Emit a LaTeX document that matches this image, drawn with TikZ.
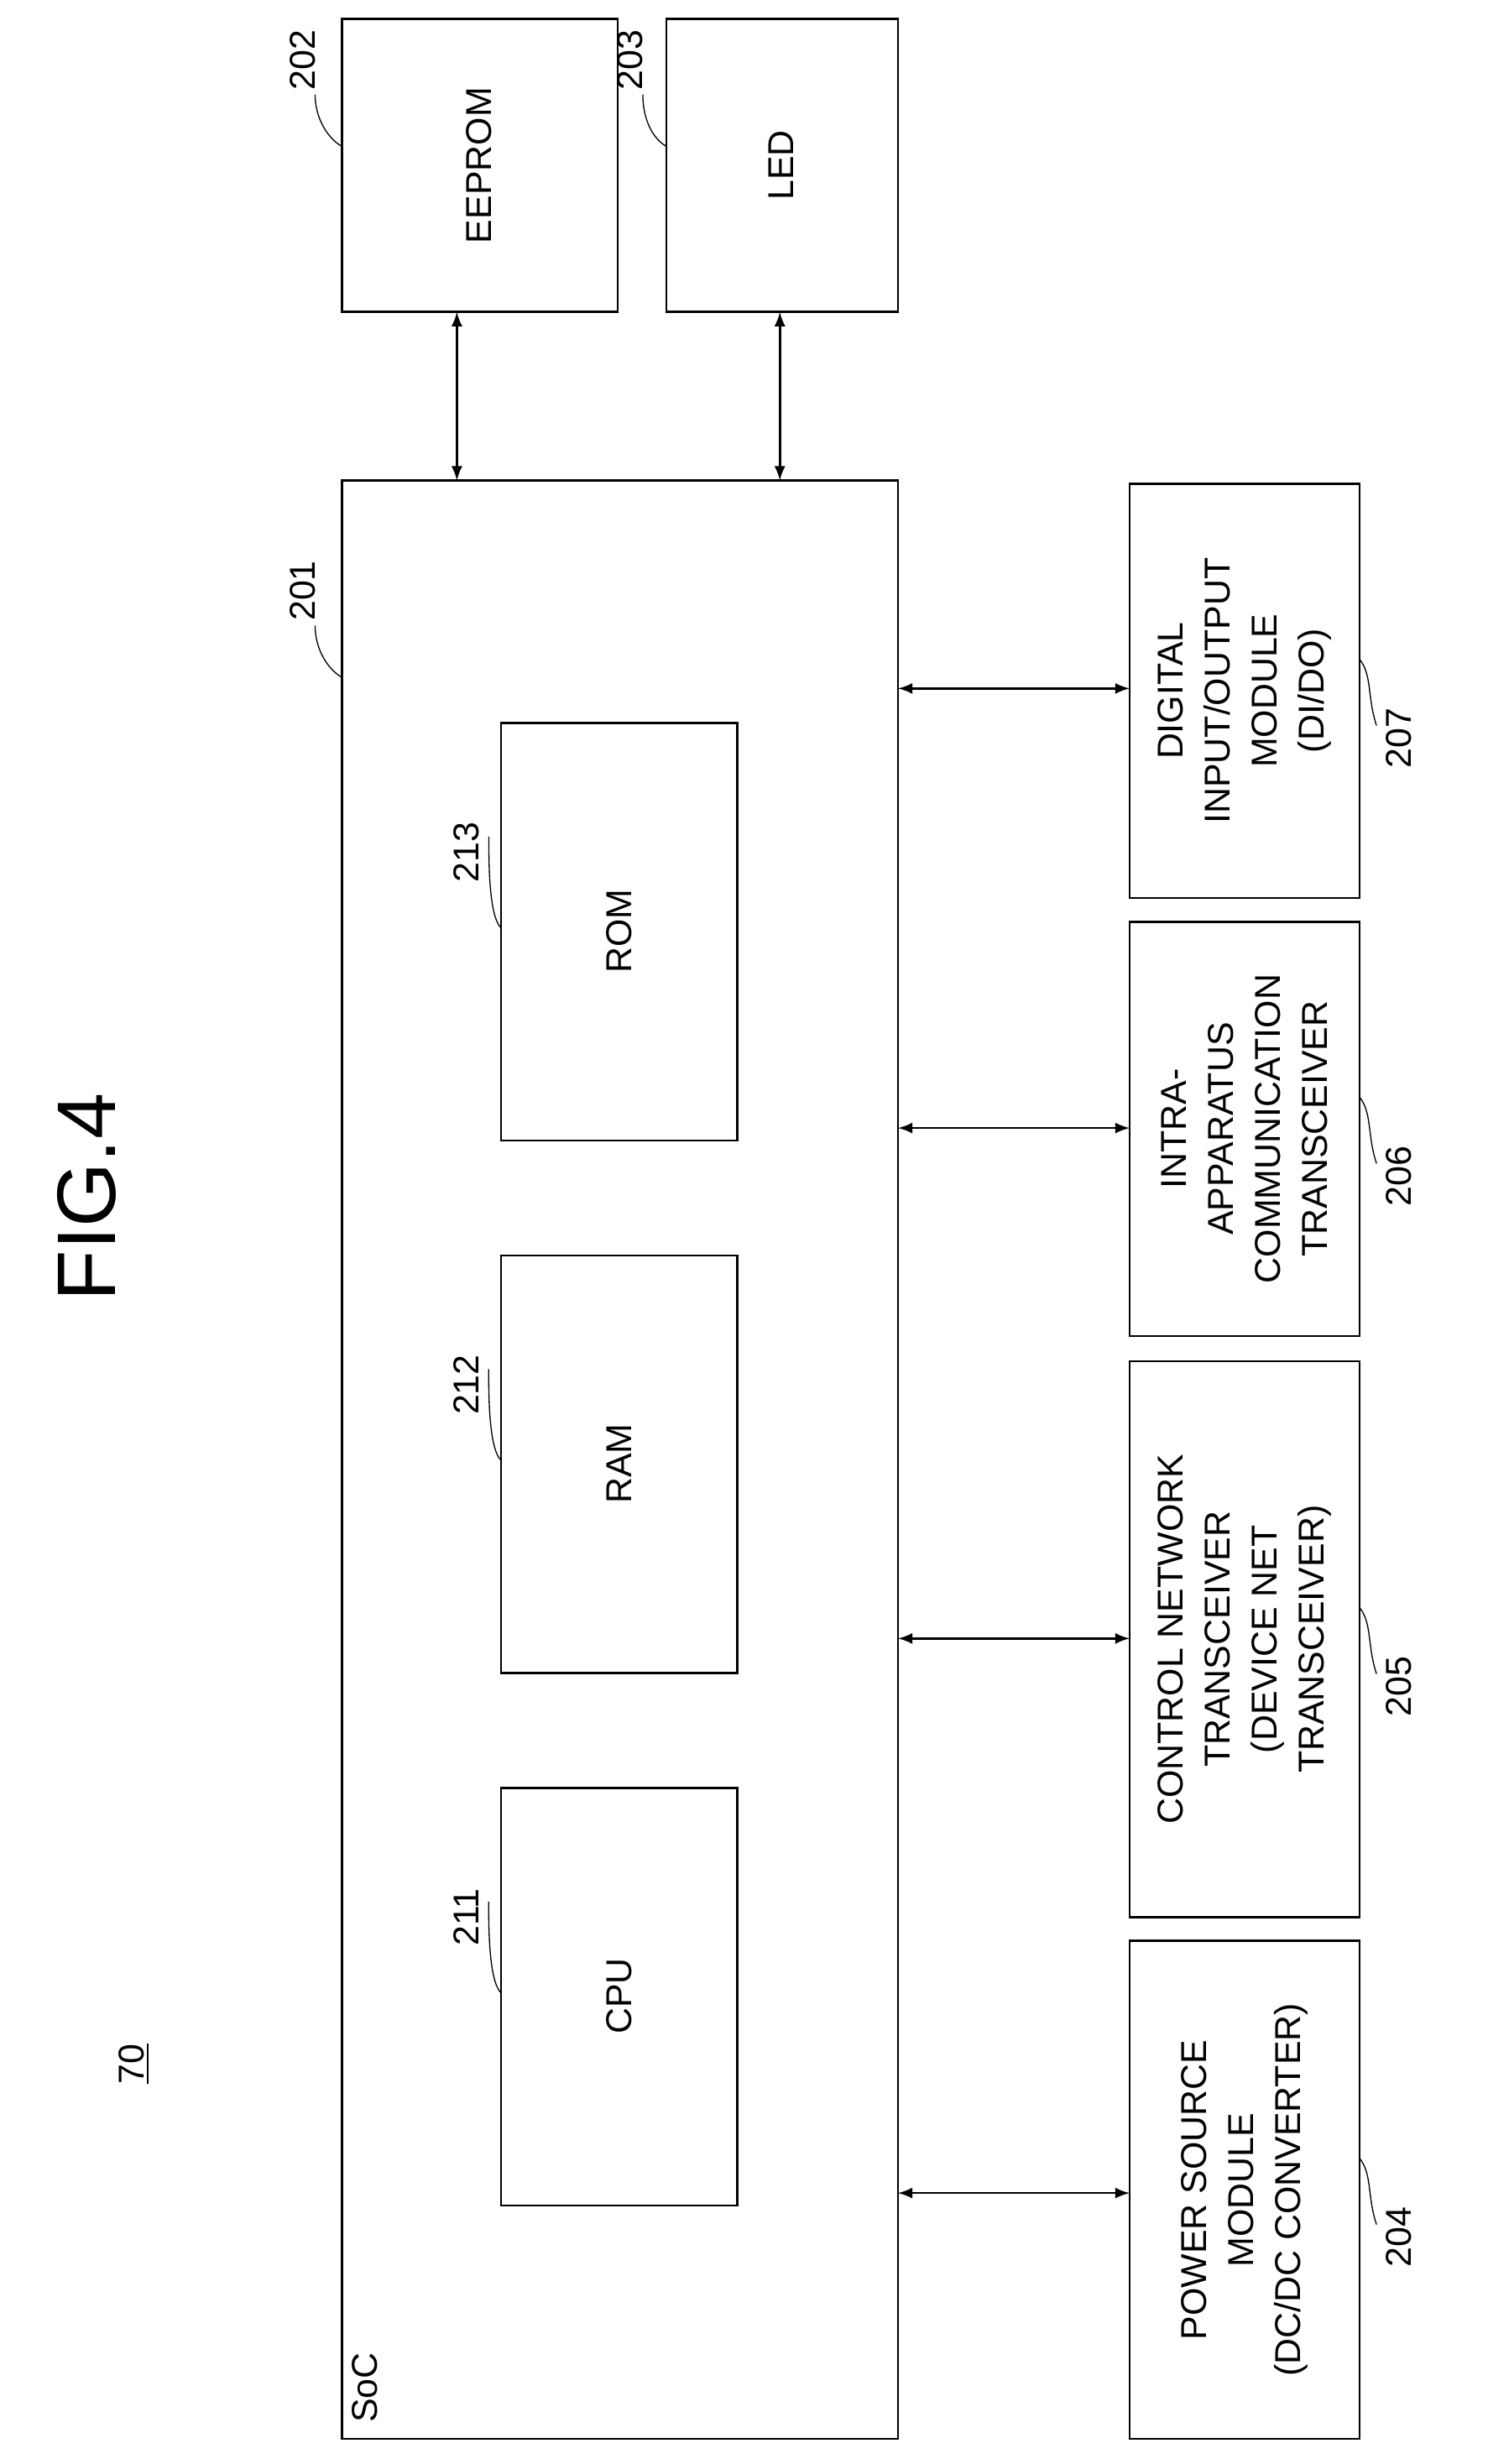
\documentclass[tikz,border=0pt]{standalone}
\usepackage{fontspec}
\setmainfont{Liberation Sans}
\usepackage{tikz}

\tikzset{
  blk/.style={draw, thick, inner sep=0pt},
  txt/.style={rotate=90, align=center, font=\fontsize{13}{17}\selectfont},
  num/.style={rotate=90, font=\fontsize{13}{15}\selectfont},
  link/.style={thick, <->, >={latex[scale=1.6]}},
  lead/.style={thin}
}

\begin{document}
\begin{tikzpicture}[x=0.02cm, y=-0.02cm]
    \useasboundingbox (0,0) rectangle (944,1564);

    % title and reference
    \node[rotate=90, font=\fontsize{30}{30}\selectfont] (fig) at (55,760) {FIG.4};
    \node[num] (ref) at (85,1310) {\underline{70}};

    % SoC and its inner blocks
    \draw[blk] (217,305) rectangle (570,1548);
    \node[num, anchor=south west] (soclbl) at (246,1544) {SoC};
    \foreach \y/\name/\n in {1135/CPU/211, 797/RAM/212, 459/ROM/213} {
        \draw[blk] (318,\y) rectangle (468,\y+265);
        \node[txt] at (393,\y+132) {\name};
        \node[num] (l\n) at (296,\y+82) {\n};
        \draw[lead] (l\n.south) ++(0,-10)
            .. controls +(0,14) and +(-8,-8) .. (318,\y+130);
    }

    % external blocks on top
    \draw[blk] (217,12) rectangle (392,198);
    \node[txt] (eeprom) at (304,105) {EEPROM};
    \draw[blk] (423,12) rectangle (570,198);
    \node[txt] (led) at (496,105) {LED};
    \coordinate (eetop) at (290,198);
    \coordinate (eebot) at (290,305);
    \coordinate (ledtop) at (495,198);
    \coordinate (ledbot) at (495,305);
    \draw[link] (eetop) -- (eebot);
    \draw[link] (ledtop) -- (ledbot);

    % labels of the top blocks and SoC
    \foreach \x/\y/\n/\bx in {192/38/202/217, 400/38/203/423, 192/375/201/217} {
        \node[num] (l\n) at (\x,\y) {\n};
        \draw[lead] (\x+8,\y+22) .. controls +(0,14) and +(-10,-6) .. (\bx,\y+55);
    }

    % modules on the right
    \foreach \ya/\yb/\n/\label in {
        307/570/207/{DIGITAL\\INPUT/OUTPUT\\MODULE\\(DI/DO)},
        585/848/206/{INTRA-\\APPARATUS\\COMMUNICATION\\TRANSCEIVER},
        864/1217/205/{CONTROL NETWORK\\TRANSCEIVER\\(DEVICE NET\\TRANSCEIVER)},
        1232/1548/204/{POWER SOURCE\\MODULE\\(DC/DC CONVERTER)}} {
        \draw[blk] (717,\ya) rectangle (863,\yb);
        \node[txt] (m\n) at (790,{(\ya+\yb)/2}) {\label};
        \node[num] (n\n) at (888,{(\ya+\yb)/2+30}) {\n};
        \draw[lead] (n\n.north) ++(0,-8) .. controls +(-6,-18) and +(8,10) .. (863,{(\ya+\yb)/2-20});
    }

    % bus connections
    \foreach \y in {437, 716, 1040, 1392} {
        \coordinate (b\y) at (570,\y);
        \coordinate (e\y) at (717,\y);
        \draw[link] (b\y) -- (e\y);
    }
\end{tikzpicture}
\end{document}
